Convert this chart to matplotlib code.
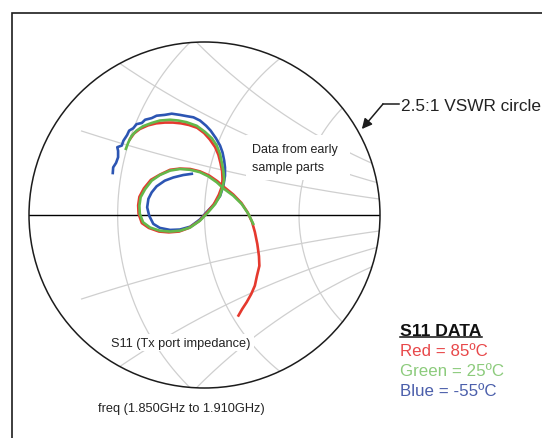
import numpy as np
import matplotlib
matplotlib.use("Agg")
import matplotlib.pyplot as plt
from matplotlib.patches import Circle, Rectangle
from matplotlib.lines import Line2D

W, H = 542, 439

# VSWR boundary shown as the outer circle
VSWR = 2.5
GAMMA_MAX = (VSWR - 1) / (VSWR + 1)

# S11 sweeps (reflection coefficient, real / imaginary), 1.850 GHz -> 1.910 GHz
red_re = [-0.182, -0.172, -0.158, -0.138, -0.118, -0.097, -0.077, -0.057, -0.038, -0.018,
          -0.001, 0.013, 0.026, 0.034, 0.039, 0.043, 0.044, 0.043, 0.035, 0.023,
          0.006, -0.013, -0.038, -0.062, -0.087, -0.111, -0.136, -0.153, -0.161, -0.162,
          -0.159, -0.148, -0.131, -0.109, -0.084, -0.060, -0.035, -0.011, 0.011, 0.031,
          0.048, 0.070, 0.090, 0.105, 0.116, 0.123, 0.129, 0.133, 0.134, 0.128,
          0.123, 0.114, 0.103, 0.092, 0.083]
red_im = [0.188, 0.202, 0.213, 0.222, 0.227, 0.229, 0.229, 0.227, 0.223, 0.216,
          0.203, 0.187, 0.168, 0.149, 0.129, 0.109, 0.089, 0.072, 0.050, 0.027,
          0.006, -0.015, -0.032, -0.041, -0.043, -0.041, -0.032, -0.020, 0.003, 0.024,
          0.045, 0.066, 0.087, 0.100, 0.112, 0.115, 0.114, 0.108, 0.098, 0.084,
          0.069, 0.051, 0.030, 0.007, -0.017, -0.042, -0.072, -0.102, -0.126, -0.151,
          -0.175, -0.196, -0.216, -0.233, -0.249]

green_re = [-0.192, -0.186, -0.178, -0.166, -0.150, -0.129, -0.109, -0.084, -0.064, -0.044,
            -0.019, 0.001, 0.018, 0.030, 0.038, 0.042, 0.046, 0.048, 0.045, 0.038,
            0.026, 0.009, -0.011, -0.035, -0.060, -0.084, -0.109, -0.133, -0.150, -0.158,
            -0.159, -0.156, -0.145, -0.129, -0.109, -0.084, -0.060, -0.035, -0.011, 0.009,
            0.030, 0.046, 0.070, 0.091, 0.107, 0.119]
green_im = [0.164, 0.180, 0.196, 0.209, 0.220, 0.228, 0.234, 0.236, 0.234, 0.230,
            0.221, 0.206, 0.190, 0.172, 0.151, 0.131, 0.110, 0.089, 0.072, 0.048,
            0.027, 0.007, -0.014, -0.031, -0.039, -0.041, -0.039, -0.031, -0.018, 0.003,
            0.023, 0.044, 0.064, 0.085, 0.099, 0.110, 0.114, 0.112, 0.106, 0.096,
            0.081, 0.066, 0.048, 0.027, 0.003, -0.022]

blue_re = [-0.224, -0.223, -0.216, -0.211, -0.211, -0.213, -0.202, -0.198, -0.189, -0.184,
           -0.174, -0.166, -0.153, -0.145, -0.129, -0.117, -0.097, -0.080, -0.060, -0.044,
           -0.027, -0.011, 0.004, 0.015, 0.028, 0.038, 0.044, 0.048, 0.050, 0.050,
           0.046, 0.038, 0.022, 0.005, -0.011, -0.035, -0.060, -0.084, -0.109, -0.125,
           -0.135, -0.140, -0.137, -0.129, -0.117, -0.097, -0.076, -0.052, -0.031]
blue_im = [0.104, 0.118, 0.129, 0.143, 0.159, 0.168, 0.172, 0.184, 0.198, 0.209,
           0.215, 0.225, 0.228, 0.236, 0.240, 0.246, 0.248, 0.251, 0.248, 0.245,
           0.242, 0.234, 0.221, 0.209, 0.190, 0.172, 0.155, 0.135, 0.118, 0.097,
           0.072, 0.047, 0.025, 0.007, -0.011, -0.029, -0.036, -0.037, -0.032, -0.022,
           -0.002, 0.019, 0.040, 0.056, 0.071, 0.085, 0.093, 0.099, 0.102]

legend_title = "S11 DATA"
legend_labels = ["Red = 85\u00baC", "Green = 25\u00baC", "Blue = -55\u00baC"]

# Smith chart grid: constant-resistance circles and constant-reactance arcs
R_CIRCLES = [0.65, 1.0, 1.6]
X_ARCS = [0.24, 0.47, 0.70, -0.24, -0.47, -0.70]
X_ARC_R_START = 0.5

RED, GREEN, BLUE = "#e5392e", "#63b84a", "#2c55b3"
RED_T, GREEN_T, BLUE_T = "#e8484a", "#8ccb7c", "#4b5fab"
GRID = "#cfcfcf"
INK = "#1c1c1c"

plt.rcParams["font.family"] = ["Liberation Sans", "DejaVu Sans"]
fig = plt.figure(figsize=(W / 100, H / 100), dpi=100)


def fx(px):
    return px / W


def fy(py):
    return 1 - py / H


ax = fig.add_axes([fx(29), fy(389), 351 / W, 346 / H])
ax.set_xlim(-GAMMA_MAX, GAMMA_MAX)
ax.set_ylim(-GAMMA_MAX, GAMMA_MAX)
ax.axis("off")

clip = Circle((0, 0), GAMMA_MAX, transform=ax.transData, fc="none", ec="none")
ax.add_patch(clip)


def gamma(z):
    return (z - 1) / (z + 1)


xs = np.concatenate([-np.geomspace(200, 0.001, 1500), np.geomspace(0.001, 200, 1500)])
for r in R_CIRCLES:
    g = gamma(r + 1j * xs)
    ln, = ax.plot(g.real, g.imag, color=GRID, lw=0.9, zorder=1)
    ln.set_clip_path(clip)

rs = np.geomspace(X_ARC_R_START, 200, 3000)
for x in X_ARCS:
    g = gamma(rs + 1j * x)
    ln, = ax.plot(g.real, g.imag, color=GRID, lw=0.9, zorder=1)
    ln.set_clip_path(clip)

ax.plot([-GAMMA_MAX, GAMMA_MAX], [0, 0], color="black", lw=1.0, zorder=2)
ax.add_patch(Circle((0, 0), GAMMA_MAX, fill=False, ec=INK, lw=1.1, zorder=5, clip_on=False))

ax.plot(blue_re, blue_im, color=BLUE, lw=1.9, zorder=3, solid_joinstyle="round")
ax.plot(red_re, red_im, color=RED, lw=1.9, zorder=3.1, solid_joinstyle="round")
ax.plot(green_re, green_im, color=GREEN, lw=1.9, zorder=3.2, solid_joinstyle="round")

# outer frame
fig.patches.append(Rectangle((fx(12), -0.1), 1.2, fy(14) + 0.1, transform=fig.transFigure,
                             fill=False, ec=INK, lw=1.2))

# white boxes behind the annotations inside the chart
fig.patches.append(Rectangle((fx(246), fy(181)), (350 - 246) / W, 45 / H,
                             transform=fig.transFigure, fc="white", ec="none"))
fig.patches.append(Rectangle((fx(108), fy(352)), (254 - 108) / W, 17 / H,
                             transform=fig.transFigure, fc="white", ec="none"))

fig.text(fx(251.5), fy(153.5), "Data from early", fontsize=9, color="#222222")
fig.text(fx(251.5), fy(170.5), "sample parts", fontsize=9, color="#222222")
fig.text(fx(111), fy(347.5), "S11 (Tx port impedance)", fontsize=9.2, color="#222222")
fig.text(fx(98.5), fy(412.5), "freq (1.850GHz to 1.910GHz)", fontsize=9.2, color="#222222")

# VSWR label with leader arrow
fig.text(fx(401), fy(111), "2.5:1 VSWR circle", fontsize=12.4, color="#222222")
fig.lines.append(Line2D([fx(383), fx(399)], [fy(105), fy(105)], transform=fig.transFigure,
                        color=INK, lw=1.1))
ang = np.deg2rad(29)
tip = (GAMMA_MAX * 1.025 * np.cos(ang), GAMMA_MAX * 1.025 * np.sin(ang))
ax.annotate("", xy=tip, xycoords="data", xytext=(fx(383), fy(105)),
            textcoords="figure fraction", annotation_clip=False,
            arrowprops=dict(arrowstyle="-|>", color=INK, lw=1.1, mutation_scale=15,
                            shrinkA=0, shrinkB=0))

# legend block, title underlined to its own width
title = fig.text(fx(400.5), fy(336), legend_title, fontsize=12.6, fontweight="bold",
                 color="#111111")
fig.canvas.draw()
bb = title.get_window_extent().transformed(fig.transFigure.inverted())
fig.lines.append(Line2D([bb.x0, bb.x1], [fy(338.2), fy(338.2)],
                        transform=fig.transFigure, color="#111111", lw=1.1))
for i, (lab, col) in enumerate(zip(legend_labels, [RED_T, GREEN_T, BLUE_T])):
    fig.text(fx(400.5), fy(356 + 20 * i), lab, fontsize=12.2, color=col)

fig.savefig("out.png", dpi=100, facecolor="white")
